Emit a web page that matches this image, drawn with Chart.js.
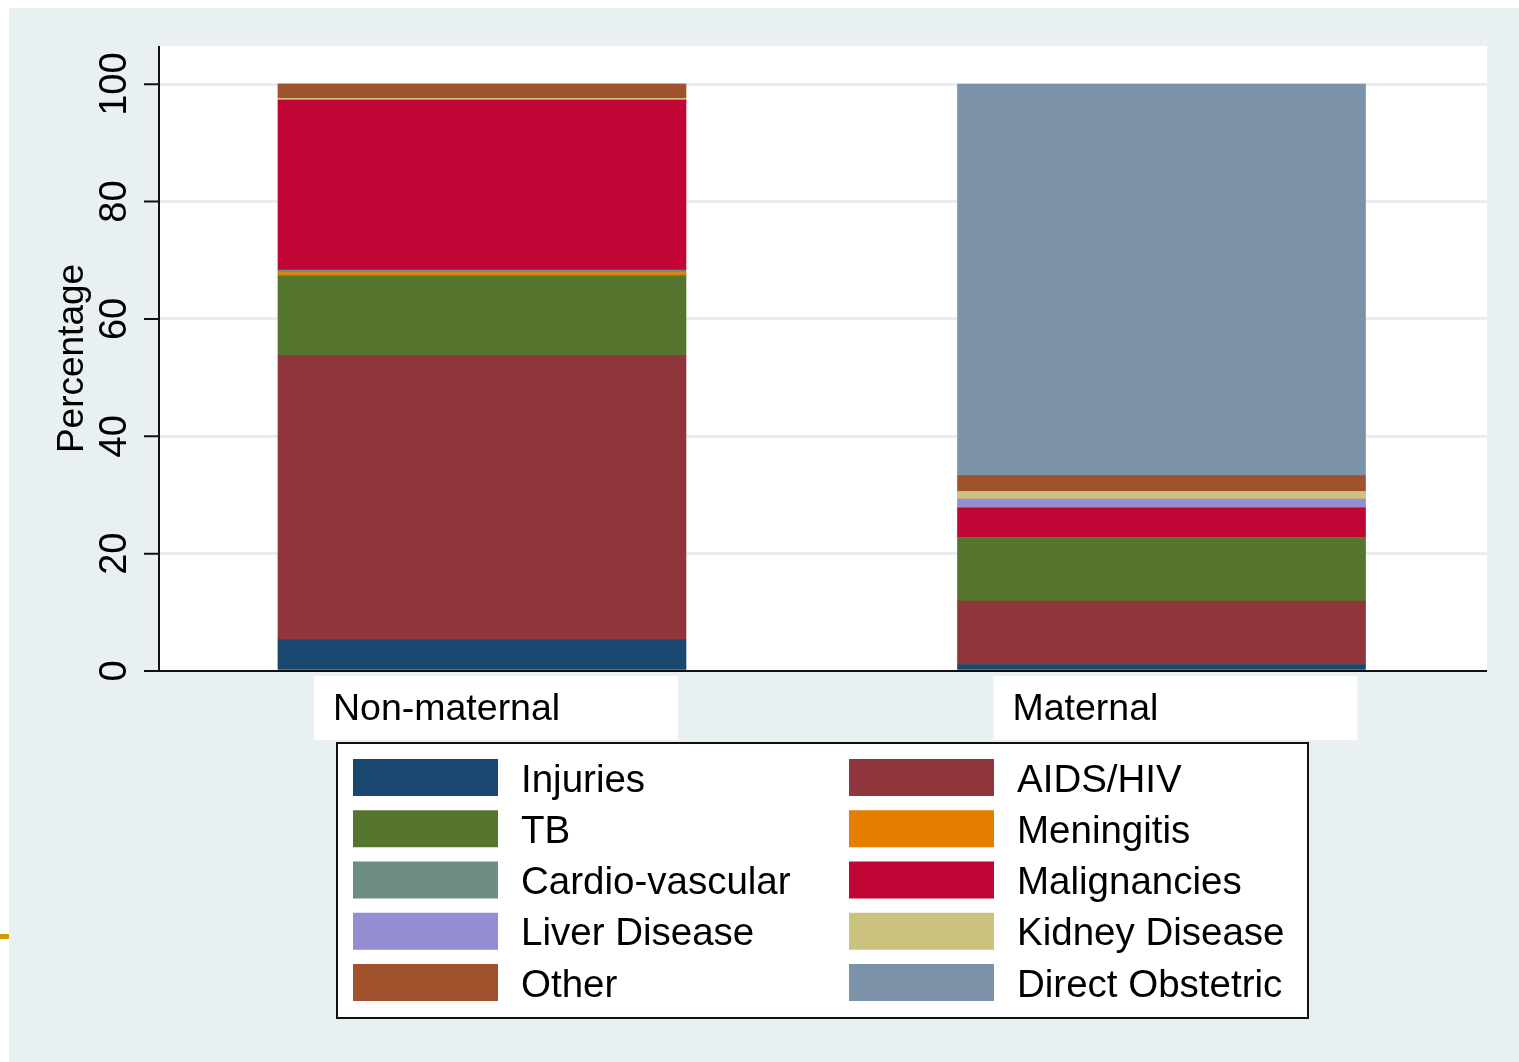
<!DOCTYPE html>
<html>
<head>
<meta charset="utf-8">
<script src="https://cdn.jsdelivr.net/npm/chart.js@4/dist/chart.umd.min.js"></script>
<style>
  html, body { margin: 0; padding: 0; background: #fff; }
  canvas { display: block; }
</style>
</head>
<body>
<canvas id="causeChart" width="1519" height="1062"></canvas>
<script>
// causes of death, % of deaths in each group
const categories = ['Non-maternal', 'Maternal'];
const injuries = [5.3, 1.1];
const aidsHiv = [48.5, 10.8];
const tb = [13.6, 10.8];
const meningitis = [0.5, 0];
const cardio = [0.4, 0];
const malignancies = [29.0, 5.1];
const liverDisease = [0, 1.5];
const kidneyDisease = [0.3, 1.3];
const other = [2.4, 2.7];
const directObstetric = [0, 66.7];
const yTicks = [0, 20, 40, 60, 80, 100];

const series = [
  { label: 'Injuries', values: injuries, color: '#1a476f' },
  { label: 'AIDS/HIV', values: aidsHiv, color: '#90353b' },
  { label: 'TB', values: tb, color: '#55752f' },
  { label: 'Meningitis', values: meningitis, color: '#e37e00' },
  { label: 'Cardio-vascular', values: cardio, color: '#6e8e84' },
  { label: 'Malignancies', values: malignancies, color: '#c10534' },
  { label: 'Liver Disease', values: liverDisease, color: '#938dd2' },
  { label: 'Kidney Disease', values: kidneyDisease, color: '#cac27e' },
  { label: 'Other', values: other, color: '#a0522d' },
  { label: 'Direct Obstetric', values: directObstetric, color: '#7b92a8' }
];

const FONT = '"Liberation Sans", Arial, Helvetica, sans-serif';
const BG = '#e8f0f2';

const stataFrame = {
  id: 'stataFrame',
  beforeDraw(chart) {
    const ctx = chart.ctx;
    const a = chart.chartArea;
    const x = chart.scales.x;
    ctx.save();
    ctx.fillStyle = '#fff';
    ctx.fillRect(0, 0, chart.width, chart.height);
    ctx.fillStyle = BG;
    ctx.fillRect(9, 8, chart.width - 9, chart.height - 8);
    ctx.fillStyle = '#d49b00';
    ctx.fillRect(0, 934, 9, 5);
    ctx.fillStyle = '#fff';
    ctx.fillRect(a.left, a.top, a.right - a.left, a.bottom - a.top);
    // white boxes behind the category labels
    categories.forEach((c, i) => {
      const cx = x.getPixelForValue(i);
      ctx.fillRect(cx - 168, a.bottom + 5, 364, 64);
    });
    // legend box
    ctx.fillRect(337, 743, 971, 275);
    ctx.restore();
  },
  afterDraw(chart) {
    const ctx = chart.ctx;
    const a = chart.chartArea;
    const x = chart.scales.x;
    const y = chart.scales.y;
    ctx.save();
    ctx.strokeStyle = '#111';
    ctx.lineWidth = 2;
    ctx.beginPath();
    ctx.moveTo(a.left, a.top);
    ctx.lineTo(a.left, a.bottom);
    ctx.moveTo(a.left - 15, a.bottom);
    ctx.lineTo(a.right, a.bottom);
    yTicks.forEach(t => {
      const py = y.getPixelForValue(t);
      ctx.moveTo(a.left - 15, py);
      ctx.lineTo(a.left, py);
    });
    ctx.stroke();

    ctx.fillStyle = '#000';
    ctx.font = '38px ' + FONT;
    ctx.textAlign = 'center';
    ctx.textBaseline = 'middle';
    yTicks.forEach(t => {
      const py = y.getPixelForValue(t);
      ctx.save();
      ctx.translate(a.left - 43, py);
      ctx.rotate(-Math.PI / 2);
      ctx.fillText(String(t), 0, 0);
      ctx.restore();
    });
    ctx.font = '37px ' + FONT;
    ctx.save();
    ctx.translate(73, (a.top + a.bottom) / 2);
    ctx.rotate(-Math.PI / 2);
    ctx.fillText('Percentage', 0, 0);
    ctx.restore();

    // category labels
    ctx.textAlign = 'left';
    ctx.font = '37.5px ' + FONT;
    categories.forEach((c, i) => {
      const cx = x.getPixelForValue(i);
      ctx.fillText(c, cx - 149, a.bottom + 39);
    });

    // legend
    ctx.strokeStyle = '#111';
    ctx.lineWidth = 2;
    ctx.strokeRect(337, 743, 971, 275);
    ctx.font = '38.5px ' + FONT;
    series.forEach((s, i) => {
      const col = i % 2;
      const row = Math.floor(i / 2);
      const sx = col === 0 ? 353 : 849;
      const sy = 759 + row * 51.25;
      ctx.fillStyle = s.color;
      ctx.fillRect(sx, sy, 145, 37);
      ctx.fillStyle = '#000';
      ctx.fillText(s.label, sx + 168, sy + 22);
    });
    ctx.restore();
  }
};

new Chart(document.getElementById('causeChart').getContext('2d'), {
  type: 'bar',
  data: {
    datasets: series.map(s => ({
      label: s.label,
      data: s.values.map((v, i) => ({ x: i, y: v })),
      backgroundColor: s.color,
      borderWidth: 0,
      barThickness: 408
    }))
  },
  options: {
    responsive: false,
    animation: false,
    devicePixelRatio: 1,
    layout: { padding: { left: 159, top: 46, right: 32, bottom: 391 } },
    plugins: { legend: { display: false }, tooltip: { enabled: false } },
    scales: {
      x: {
        type: 'linear',
        stacked: true,
        offset: false,
        min: -0.4753,
        max: 1.479,
        display: false
      },
      y: {
        stacked: true,
        min: 0,
        max: 106.5,
        afterBuildTicks: s => { s.ticks = yTicks.map(v => ({ value: v })); },
        afterFit: s => { s.width = 0; },
        ticks: { display: false },
        border: { display: false },
        grid: { color: '#e6eef0', lineWidth: 3, drawTicks: false }
      }
    }
  },
  plugins: [stataFrame]
});
</script>
</body>
</html>
